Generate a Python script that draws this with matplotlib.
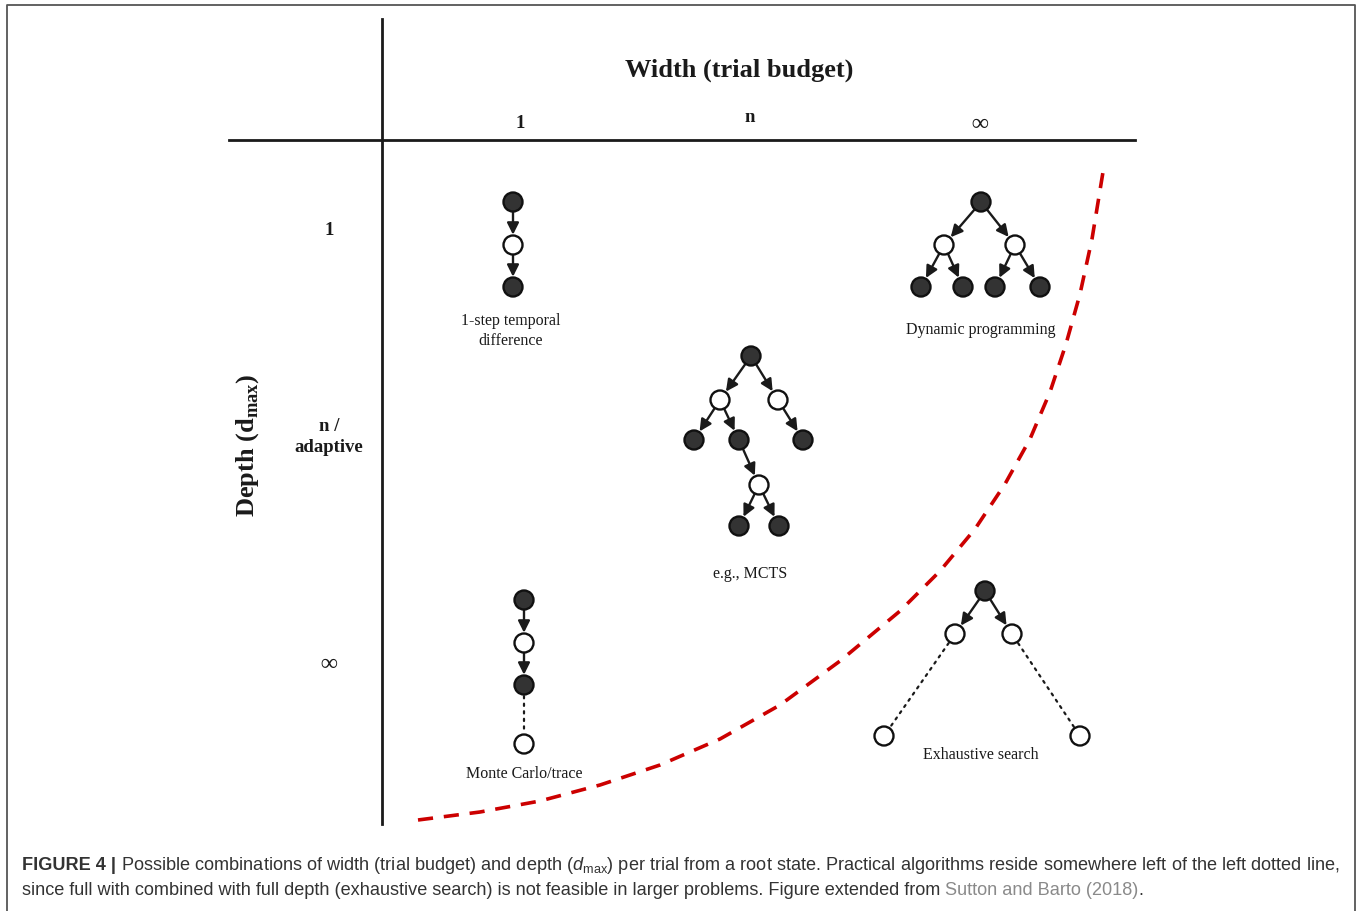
import matplotlib.pyplot as plt
from matplotlib.patches import Circle

plt.rcParams['mathtext.fontset'] = 'custom'
plt.rcParams['mathtext.rm'] = 'Liberation Serif:bold'
plt.rcParams['mathtext.it'] = 'Liberation Sans:italic'
plt.rcParams['mathtext.sf'] = 'Liberation Sans'

# 列 / 行 标签
col_labels = ['1', 'n', '∞']
col_x = [520, 750, 980]
col_y = [123, 118, 124]
row_labels = ['1', 'n /\nadaptive', '∞']
row_y = [231, 437, 665]

# 树: 节点 (x, y, 是否实心), 边 (起点, 终点, 类型)
td_nodes = [(513, 203, 1), (513, 246, 0), (513, 288, 1)]
td_edges = [(0, 1, 'a'), (1, 2, 'a')]

dp_nodes = [(981, 203, 1), (944, 246, 0), (1015, 246, 0),
            (921, 288, 1), (963, 288, 1), (995, 288, 1), (1040, 288, 1)]
dp_edges = [(0, 1, 'a'), (0, 2, 'a'), (1, 3, 'a'), (1, 4, 'a'), (2, 5, 'a'), (2, 6, 'a')]

mcts_nodes = [(751, 357, 1), (720, 401, 0), (778, 401, 0),
              (694, 441, 1), (739, 441, 1), (803, 441, 1),
              (759, 486, 0), (739, 527, 1), (779, 527, 1)]
mcts_edges = [(0, 1, 'a'), (0, 2, 'a'), (1, 3, 'a'), (1, 4, 'a'), (2, 5, 'a'),
              (4, 6, 'a'), (6, 7, 'a'), (6, 8, 'a')]

mc_nodes = [(524, 601, 1), (524, 644, 0), (524, 686, 1), (524, 745, 0)]
mc_edges = [(0, 1, 'a'), (1, 2, 'a'), (2, 3, 'd')]

ex_nodes = [(985, 592, 1), (955, 635, 0), (1012, 635, 0), (884, 737, 0), (1080, 737, 0)]
ex_edges = [(0, 1, 'a'), (0, 2, 'a'), (1, 3, 'd'), (2, 4, 'd')]

trees = [
    (td_nodes, td_edges, '1-step temporal\ndifference', (511, 331)),
    (dp_nodes, dp_edges, 'Dynamic programming', (981, 330)),
    (mcts_nodes, mcts_edges, 'e.g., MCTS', (750, 574)),
    (mc_nodes, mc_edges, 'Monte Carlo/trace', (524, 774)),
    (ex_nodes, ex_edges, 'Exhaustive search', (981, 755)),
]

# 红色虚线 (可行边界)
curve_x = [418, 480, 540, 600, 660, 720, 780, 840, 900, 940, 975, 1005, 1030, 1050, 1066, 1080, 1092, 1103]
curve_y = [821, 813, 802, 786, 766, 740, 706, 662, 612, 572, 530, 485, 440, 393, 345, 295, 240, 173]

serif = 'Liberation Serif'
sans = 'Liberation Sans'
ink = '#1a1a1a'

fig = plt.figure(figsize=(13.6, 9.12), dpi=100)
ax = fig.add_axes([0, 0, 1, 1])
ax.set_xlim(0, 1360)
ax.set_ylim(912, 0)
ax.axis('off')

# 外框
ax.plot([7, 7, 1355, 1355], [912, 6, 6, 912], color='#555555', lw=1.3)

# 坐标轴
ax.plot([382, 382], [20, 825], color=ink, lw=2.0)
ax.plot([229, 1135], [141, 141], color=ink, lw=2.0)

ax.text(739, 70, 'Width (trial budget)', family=serif, weight='bold', fontsize=19,
        ha='center', va='center', color=ink)
ax.text(248, 445, r'Depth (d$_{\mathrm{max}}$)', family=serif, weight='bold', fontsize=19,
        ha='center', va='center', rotation=90, color=ink)
for lab, x, y in zip(col_labels, col_x, col_y):
    ax.text(x, y, lab, family=serif, weight='bold', fontsize=17 if lab == '∞' else 13.5,
            ha='center', va='center', color=ink)
for lab, y in zip(row_labels, row_y):
    ax.text(329, y, lab, family=serif, weight='bold', fontsize=17 if lab == '∞' else 13.5,
            ha='center', va='center', color=ink, linespacing=1.3)

ax.plot(curve_x, curve_y, color='#cc0000', lw=2.6, dashes=(4.2, 3.0))

r = 9.5
for nodes, edges, label, (lx, ly) in trees:
    for a, b, kind in edges:
        x0, y0, _ = nodes[a]
        x1, y1, _ = nodes[b]
        if kind == 'a':
            ax.annotate('', xy=(x1, y1), xytext=(x0, y0),
                        arrowprops=dict(arrowstyle='-|>,head_length=0.5,head_width=0.25', color=ink, lw=1.7,
                                        mutation_scale=14, shrinkA=7.2, shrinkB=7.4))
        else:
            ax.annotate('', xy=(x1, y1), xytext=(x0, y0),
                        arrowprops=dict(arrowstyle='-', color=ink, lw=1.6,
                                        linestyle=(0, (1, 2.4)), shrinkA=8, shrinkB=8))
    for x, y, filled in nodes:
        ax.add_patch(Circle((x, y), r, facecolor='#333333' if filled else 'white',
                            edgecolor='#111111', lw=1.7, zorder=3))
    ax.text(lx, ly, label, family=serif, fontsize=11.5, ha='center', va='center',
            color=ink, linespacing=1.3)

# 图注
cap_fs = 13.05
cap_col = '#333333'
t = ax.text(22, 866, 'FIGURE 4 | ', family=sans, weight='bold', fontsize=cap_fs, va='center', color=cap_col)
t2 = ax.annotate('Possible combinations of width (trial budget) and depth ($d_{\\mathsf{max}}$) per trial from a root state. '
                 'Practical algorithms reside somewhere left of the left dotted line,',
                 xycoords=t, xy=(1, 0.5), va='center', family=sans, fontsize=cap_fs, color=cap_col)
t3 = ax.text(22, 891, 'since full with combined with full depth (exhaustive search) is not feasible in larger problems. '
             'Figure extended from ', family=sans, fontsize=cap_fs, va='center', color=cap_col)
t4 = ax.annotate('Sutton and Barto (2018)', xycoords=t3, xy=(1, 0.5), va='center',
                 family=sans, fontsize=cap_fs, color='#8a8a8a')
ax.annotate('.', xycoords=t4, xy=(1, 0.5), va='center', family=sans, fontsize=cap_fs, color=cap_col)

plt.savefig('out.png', dpi=100)
